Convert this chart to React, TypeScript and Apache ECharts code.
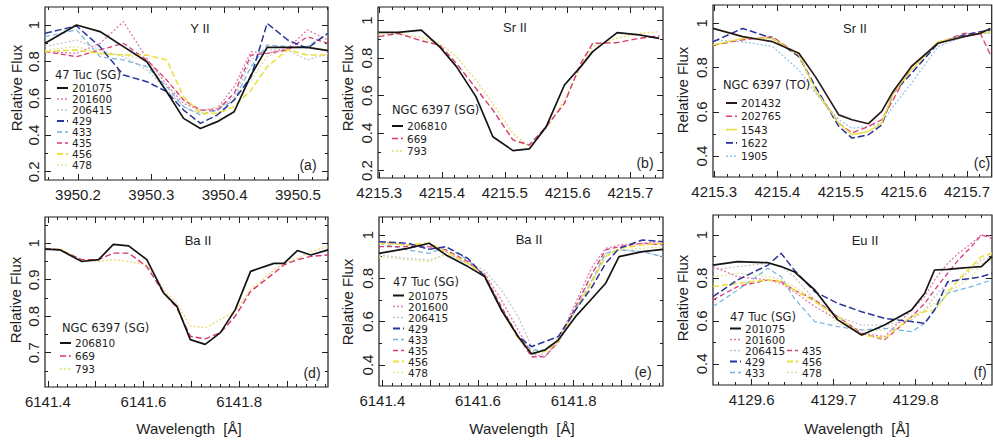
import React, { useEffect, useRef } from 'react';
import * as echarts from 'echarts';

// ---------------- Panel (a): Y II, 47 Tuc (SG) ----------------
const waveA = [3950.155, 3950.198, 3950.23, 3950.262, 3950.294, 3950.321, 3950.344, 3950.367, 3950.39, 3950.413, 3950.436, 3950.458, 3950.486, 3950.513, 3950.541];
const fluxA201075 = [0.9, 1.0, 0.964, 0.882, 0.8, 0.636, 0.491, 0.436, 0.473, 0.527, 0.727, 0.878, 0.878, 0.878, 0.86];
const fluxA201600 = [0.855, 0.845, 0.9, 1.018, 0.818, 0.673, 0.573, 0.536, 0.545, 0.664, 0.855, 0.845, 0.873, 0.973, 0.918];
const fluxA206415 = [0.882, 0.918, 0.864, 0.827, 0.755, 0.645, 0.555, 0.518, 0.536, 0.609, 0.809, 0.864, 0.864, 0.809, 0.845];
const fluxA429 = [0.955, 0.995, 0.882, 0.727, 0.691, 0.636, 0.536, 0.464, 0.509, 0.591, 0.718, 1.009, 0.918, 0.873, 0.955];
const fluxA433 = [0.936, 0.973, 0.827, 0.809, 0.773, 0.664, 0.555, 0.509, 0.536, 0.591, 0.773, 0.891, 0.882, 0.882, 0.955];
const fluxA435 = [0.855, 0.827, 0.864, 0.9, 0.809, 0.7, 0.591, 0.536, 0.536, 0.627, 0.836, 0.845, 0.864, 0.936, 0.9];
const fluxA456 = [0.855, 0.864, 0.845, 0.836, 0.836, 0.809, 0.609, 0.518, 0.518, 0.555, 0.645, 0.773, 0.864, 0.836, 0.836];
const fluxA478 = [0.864, 0.882, 0.845, 0.836, 0.809, 0.7, 0.591, 0.527, 0.555, 0.591, 0.7, 0.827, 0.873, 0.882, 0.864];

// ---------------- Panel (b): Sr II, NGC 6397 (SG) ----------------
const waveB = [4215.299, 4215.33, 4215.367, 4215.396, 4215.423, 4215.454, 4215.481, 4215.513, 4215.539, 4215.566, 4215.595, 4215.621, 4215.64, 4215.679, 4215.714, 4215.746];
const fluxB206810 = [0.938, 0.938, 0.95, 0.861, 0.755, 0.595, 0.381, 0.307, 0.316, 0.435, 0.657, 0.755, 0.835, 0.936, 0.924, 0.906];
const fluxB669 = [0.915, 0.932, 0.893, 0.87, 0.772, 0.639, 0.524, 0.364, 0.337, 0.435, 0.559, 0.772, 0.879, 0.883, 0.906, 0.918];
const fluxB793 = [0.924, 0.932, 0.911, 0.879, 0.808, 0.684, 0.559, 0.399, 0.328, 0.426, 0.577, 0.755, 0.861, 0.906, 0.932, 0.941];

// ---------------- Panel (c): Sr II, NGC 6397 (TO) ----------------
const waveC = [4215.298, 4215.345, 4215.392, 4215.434, 4215.46, 4215.497, 4215.518, 4215.544, 4215.565, 4215.583, 4215.612, 4215.654, 4215.695, 4215.721, 4215.737];
const fluxC201432 = [0.977, 0.94, 0.917, 0.865, 0.759, 0.586, 0.564, 0.546, 0.602, 0.692, 0.805, 0.91, 0.94, 0.955, 0.977];
const fluxC202765 = [0.902, 0.925, 0.94, 0.857, 0.699, 0.549, 0.504, 0.534, 0.564, 0.654, 0.805, 0.91, 0.955, 0.955, 0.857];
const fluxC1543 = [0.902, 0.932, 0.932, 0.857, 0.699, 0.549, 0.496, 0.511, 0.549, 0.684, 0.789, 0.917, 0.94, 0.955, 0.962];
const fluxC1622 = [0.917, 0.977, 0.932, 0.85, 0.714, 0.534, 0.481, 0.496, 0.541, 0.684, 0.774, 0.91, 0.947, 0.962, 0.97];
const fluxC1905 = [0.925, 0.917, 0.895, 0.789, 0.684, 0.564, 0.526, 0.534, 0.549, 0.624, 0.729, 0.895, 0.94, 0.955, 0.955];

// ---------------- Panel (d): Ba II, NGC 6397 (SG) ----------------
const waveD = [6141.394, 6141.425, 6141.471, 6141.506, 6141.537, 6141.569, 6141.607, 6141.642, 6141.67, 6141.698, 6141.729, 6141.761, 6141.792, 6141.824, 6141.873, 6141.894, 6141.922, 6141.95, 6141.986];
const fluxD206810 = [0.984, 0.982, 0.95, 0.955, 0.997, 0.993, 0.955, 0.864, 0.827, 0.736, 0.723, 0.755, 0.818, 0.923, 0.945, 0.945, 0.98, 0.968, 0.982];
const fluxD669 = [0.986, 0.982, 0.955, 0.955, 0.973, 0.973, 0.936, 0.864, 0.823, 0.745, 0.738, 0.755, 0.8, 0.868, 0.918, 0.941, 0.955, 0.964, 0.968];
const fluxD793 = [0.984, 0.986, 0.955, 0.95, 0.955, 0.95, 0.941, 0.873, 0.836, 0.773, 0.768, 0.791, 0.814, 0.873, 0.927, 0.945, 0.959, 0.977, 0.991];

// ---------------- Panel (e): Ba II, 47 Tuc (SG) ----------------
const waveE = [6141.393, 6141.453, 6141.498, 6141.533, 6141.579, 6141.614, 6141.649, 6141.684, 6141.712, 6141.74, 6141.768, 6141.804, 6141.839, 6141.867, 6141.895, 6141.944, 6141.987];
const fluxE201075 = [0.915, 0.938, 0.962, 0.908, 0.854, 0.808, 0.654, 0.531, 0.451, 0.469, 0.515, 0.623, 0.708, 0.777, 0.9, 0.923, 0.934];
const fluxE201600 = [0.969, 0.954, 0.946, 0.923, 0.869, 0.823, 0.7, 0.562, 0.454, 0.438, 0.515, 0.685, 0.854, 0.938, 0.954, 0.962, 0.969];
const fluxE206415 = [0.908, 0.892, 0.885, 0.908, 0.869, 0.838, 0.746, 0.623, 0.485, 0.438, 0.5, 0.654, 0.823, 0.915, 0.931, 0.923, 0.9];
const fluxE429 = [0.969, 0.962, 0.934, 0.946, 0.892, 0.808, 0.654, 0.531, 0.485, 0.508, 0.531, 0.654, 0.762, 0.869, 0.938, 0.977, 0.969];
const fluxE433 = [0.962, 0.931, 0.915, 0.946, 0.885, 0.808, 0.654, 0.531, 0.469, 0.469, 0.515, 0.654, 0.792, 0.915, 0.931, 0.923, 0.9];
const fluxE435 = [0.946, 0.946, 0.946, 0.931, 0.877, 0.815, 0.669, 0.531, 0.438, 0.438, 0.508, 0.669, 0.823, 0.931, 0.946, 0.962, 0.954];
const fluxE456 = [0.962, 0.954, 0.962, 0.923, 0.869, 0.815, 0.654, 0.523, 0.454, 0.462, 0.508, 0.654, 0.785, 0.9, 0.938, 0.954, 0.962];
const fluxE478 = [0.9, 0.885, 0.877, 0.915, 0.869, 0.808, 0.662, 0.531, 0.462, 0.469, 0.523, 0.662, 0.792, 0.9, 0.931, 0.938, 0.946];

// ---------------- Panel (f): Eu II, 47 Tuc (SG) ----------------
const waveF = [4129.553, 4129.583, 4129.62, 4129.636, 4129.652, 4129.677, 4129.705, 4129.734, 4129.762, 4129.795, 4129.811, 4129.823, 4129.839, 4129.852, 4129.868, 4129.88, 4129.893];
const fluxF201075 = [0.86, 0.876, 0.871, 0.853, 0.829, 0.744, 0.605, 0.535, 0.581, 0.651, 0.729, 0.837, 0.84, 0.845, 0.85, 0.853, 0.899];
const fluxF201600 = [0.853, 0.806, 0.791, 0.775, 0.736, 0.667, 0.605, 0.543, 0.527, 0.651, 0.713, 0.791, 0.868, 0.915, 0.961, 1.0, 0.992];
const fluxF206415 = [0.837, 0.853, 0.868, 0.853, 0.806, 0.698, 0.62, 0.581, 0.581, 0.605, 0.651, 0.713, 0.775, 0.791, 0.837, 0.884, 0.899];
const fluxF429 = [0.713, 0.791, 0.86, 0.915, 0.837, 0.736, 0.682, 0.643, 0.612, 0.597, 0.589, 0.651, 0.783, 0.791, 0.798, 0.806, 0.822];
const fluxF433 = [0.667, 0.744, 0.845, 0.806, 0.705, 0.597, 0.574, 0.558, 0.566, 0.55, 0.589, 0.651, 0.729, 0.744, 0.76, 0.775, 0.791];
const fluxF435 = [0.698, 0.76, 0.791, 0.783, 0.744, 0.698, 0.62, 0.543, 0.512, 0.62, 0.682, 0.744, 0.822, 0.884, 0.946, 1.0, 0.984];
const fluxF456 = [0.76, 0.775, 0.791, 0.783, 0.744, 0.69, 0.62, 0.535, 0.519, 0.62, 0.643, 0.651, 0.729, 0.791, 0.853, 0.899, 0.915];
const fluxF478 = [0.806, 0.822, 0.806, 0.791, 0.76, 0.698, 0.589, 0.558, 0.558, 0.62, 0.651, 0.682, 0.744, 0.76, 0.806, 0.868, 0.884];

// ---------------- Tick labels ----------------
const waveTicksA = [3950.2, 3950.3, 3950.4, 3950.5];
const waveTicksBC = [4215.3, 4215.4, 4215.5, 4215.6, 4215.7];
const waveTicksDE = [6141.4, 6141.6, 6141.8];
const waveTicksF = [4129.6, 4129.7, 4129.8];
const fluxTicksAB = [0.2, 0.4, 0.6, 0.8, 1];
const fluxTicksCEF = [0.4, 0.6, 0.8, 1];
const fluxTicksD = [0.7, 0.8, 0.9, 1];

const FONT = '"Liberation Sans", Arial, Helvetica, sans-serif';
const LEGEND_FONT = '"DejaVu Sans", "Liberation Sans", sans-serif';
const INK = '#1e1e1e';

const STYLE: Record<string, { color: string; width: number; dash: number[] | null }> = {
  '201075': { color: '#141414', width: 1.7, dash: null },
  '201600': { color: '#e07ab2', width: 1.3, dash: [2, 2] },
  '206415': { color: '#c4c4c4', width: 1.2, dash: [2, 2] },
  '429': { color: '#2b3698', width: 1.5, dash: [7, 3] },
  '433': { color: '#74b2e0', width: 1.2, dash: [5, 3] },
  '435': { color: '#d63c7c', width: 1.3, dash: [5, 3] },
  '456': { color: '#ece23c', width: 1.6, dash: [6, 3] },
  '478': { color: '#e2e49c', width: 1.3, dash: [2, 2] },
  '206810': { color: '#141414', width: 1.7, dash: null },
  '669': { color: '#d6386c', width: 1.4, dash: [6, 3] },
  '793': { color: '#e6dc6a', width: 1.3, dash: [2, 2] },
  '201432': { color: '#2a1a1a', width: 1.7, dash: null },
  '202765': { color: '#e0406a', width: 1.3, dash: [6, 3] },
  '1543': { color: '#e6e04a', width: 1.4, dash: null },
  '1622': { color: '#27309a', width: 1.5, dash: [7, 3] },
  '1905': { color: '#8cc4e6', width: 1.2, dash: [2, 2] },
};

type Panel = {
  rect: number[];
  xr: number[];
  yr: number[];
  xLabels: number[];
  xMajor: number;
  xMinor: number;
  yLabels: number[];
  yMajor: number;
  yMinor: number;
  wave: number[];
  order: string[];
  flux: Record<string, number[]>;
  title: string;
  titlePos: number[];
  tag: string;
  tagPos: number[];
  yTitlePos: number[];
  xTitlePos: number[] | null;
  legendHead: string;
  legendHeadPos: number[];
  legend: { star: string; x: number; y: number }[];
};

const col = (stars: string[], x: number, y0: number, dy: number) =>
  stars.map((s, i) => ({ star: s, x, y: y0 + dy * i }));

const tucStars = ['201075', '201600', '206415', '429', '433', '435', '456', '478'];
const tucOrder = ['206415', '478', '433', '435', '201600', '456', '429', '201075'];

const panels: Panel[] = [
  {
    rect: [45, 7, 283, 173], xr: [3950.155, 3950.541], yr: [0.155, 1.098],
    xLabels: waveTicksA, xMajor: 0.1, xMinor: 0.02, yLabels: fluxTicksAB, yMajor: 0.2, yMinor: 0.1,
    wave: waveA, order: tucOrder,
    flux: { '201075': fluxA201075, '201600': fluxA201600, '206415': fluxA206415, '429': fluxA429, '433': fluxA433, '435': fluxA435, '456': fluxA456, '478': fluxA478 },
    title: 'Y II', titlePos: [200, 28], tag: '(a)', tagPos: [308, 165],
    yTitlePos: [16, 88], xTitlePos: null,
    legendHead: '47 Tuc (SG)', legendHeadPos: [55, 75],
    legend: col(tucStars, 57, 88, 11),
  },
  {
    rect: [378, 7, 285, 171], xr: [4215.298, 4215.752], yr: [0.161, 1.073],
    xLabels: waveTicksBC, xMajor: 0.1, xMinor: 0.02, yLabels: fluxTicksAB, yMajor: 0.2, yMinor: 0.1,
    wave: waveB, order: ['793', '669', '206810'],
    flux: { '206810': fluxB206810, '669': fluxB669, '793': fluxB793 },
    title: 'Sr II', titlePos: [515, 27], tag: '(b)', tagPos: [645, 163],
    yTitlePos: [347, 88], xTitlePos: null,
    legendHead: 'NGC 6397 (SG)', legendHeadPos: [392, 110],
    legend: col(['206810', '669', '793'], 392, 126, 12.5),
  },
  {
    rect: [713, 5, 279, 172], xr: [4215.298, 4215.739], yr: [0.305, 1.083],
    xLabels: waveTicksBC, xMajor: 0.1, xMinor: 0.02, yLabels: fluxTicksCEF, yMajor: 0.2, yMinor: 0.1,
    wave: waveC, order: ['1905', '1543', '202765', '1622', '201432'],
    flux: { '201432': fluxC201432, '202765': fluxC202765, '1543': fluxC1543, '1622': fluxC1622, '1905': fluxC1905 },
    title: 'Sr II', titlePos: [855, 28], tag: '(c)', tagPos: [982, 163],
    yTitlePos: [682, 90], xTitlePos: null,
    legendHead: 'NGC 6397 (TO)', legendHeadPos: [723, 85],
    legend: col(['201432', '202765', '1543', '1622', '1905'], 726, 103, 13.3),
  },
  {
    rect: [45, 217, 283, 170], xr: [6141.394, 6141.986], yr: [0.606, 1.072],
    xLabels: waveTicksDE, xMajor: 0.1, xMinor: 0.02, yLabels: fluxTicksD, yMajor: 0.1, yMinor: 0.05,
    wave: waveD, order: ['793', '669', '206810'],
    flux: { '206810': fluxD206810, '669': fluxD669, '793': fluxD793 },
    title: 'Ba II', titlePos: [198, 240], tag: '(d)', tagPos: [312, 373],
    yTitlePos: [15, 300], xTitlePos: [189, 428],
    legendHead: 'NGC 6397 (SG)', legendHeadPos: [62, 328],
    legend: col(['206810', '669', '793'], 60, 343, 13),
  },
  {
    rect: [379, 217, 284, 169], xr: [6141.393, 6141.987], yr: [0.303, 1.083],
    xLabels: waveTicksDE, xMajor: 0.1, xMinor: 0.02, yLabels: fluxTicksCEF, yMajor: 0.2, yMinor: 0.1,
    wave: waveE, order: tucOrder,
    flux: { '201075': fluxE201075, '201600': fluxE201600, '206415': fluxE206415, '429': fluxE429, '433': fluxE433, '435': fluxE435, '456': fluxE456, '478': fluxE478 },
    title: 'Ba II', titlePos: [529, 239], tag: '(e)', tagPos: [643, 372],
    yTitlePos: [347, 302], xTitlePos: [522, 428],
    legendHead: '47 Tuc (SG)', legendHeadPos: [393, 282],
    legend: col(tucStars, 393, 295.5, 11),
  },
  {
    rect: [713, 215, 279, 170], xr: [4129.553, 4129.893], yr: [0.302, 1.093],
    xLabels: waveTicksF, xMajor: 0.1, xMinor: 0.02, yLabels: fluxTicksCEF, yMajor: 0.2, yMinor: 0.1,
    wave: waveF, order: tucOrder,
    flux: { '201075': fluxF201075, '201600': fluxF201600, '206415': fluxF206415, '429': fluxF429, '433': fluxF433, '435': fluxF435, '456': fluxF456, '478': fluxF478 },
    title: 'Eu II', titlePos: [865, 240], tag: '(f)', tagPos: [980, 372],
    yTitlePos: [682, 298], xTitlePos: [857, 428],
    legendHead: '47 Tuc (SG)', legendHeadPos: [730, 317],
    legend: [...col(['201075', '201600', '206415', '429', '433'], 730, 328.5, 11), ...col(['435', '456', '478'], 787, 350.5, 11)],
  },
];

function tickRange(min: number, max: number, step: number) {
  const out: number[] = [];
  const k0 = Math.ceil(min / step - 1e-6);
  const k1 = Math.floor(max / step + 1e-6);
  for (let k = k0; k <= k1; k++) out.push(+(k * step).toFixed(4));
  return out;
}

function buildOption() {
  const grid: any[] = [];
  const xAxis: any[] = [];
  const yAxis: any[] = [];
  const series: any[] = [];
  const graphic: any[] = [];

  panels.forEach((p, i) => {
    const [l, t, w, h] = p.rect;
    grid.push({ left: l, top: t, width: w, height: h, show: true, borderColor: INK, borderWidth: 1.2, backgroundColor: 'rgba(0,0,0,0)' });
    const xMaj = tickRange(p.xr[0], p.xr[1], p.xMajor);
    const xMin = tickRange(p.xr[0], p.xr[1], p.xMinor);
    const yMaj = tickRange(p.yr[0], p.yr[1], p.yMajor);
    const yMin = tickRange(p.yr[0], p.yr[1], p.yMinor);
    const baseX = { type: 'value', gridIndex: i, min: p.xr[0], max: p.xr[1], axisLine: { show: false, onZero: false }, splitLine: { show: false } };
    const baseY = { type: 'value', gridIndex: i, min: p.yr[0], max: p.yr[1], axisLine: { show: false, onZero: false }, splitLine: { show: false } };
    const tick = (vals: number[], len: number) => ({ show: true, inside: true, length: len, customValues: vals, lineStyle: { color: INK, width: 1 } });
    const noLabel = { show: false };
    xAxis.push(
      { ...baseX, position: 'bottom', axisTick: tick(xMaj, 6), axisLabel: { customValues: p.xLabels, formatter: (v: number) => v.toFixed(1), margin: 7, fontSize: 15, color: INK, fontFamily: FONT } },
      { ...baseX, position: 'bottom', axisTick: tick(xMin, 3), axisLabel: noLabel },
      { ...baseX, position: 'top', axisTick: tick(xMaj, 6), axisLabel: noLabel },
      { ...baseX, position: 'top', axisTick: tick(xMin, 3), axisLabel: noLabel },
    );
    yAxis.push(
      { ...baseY, position: 'left', axisTick: tick(yMaj, 6), axisLabel: { customValues: p.yLabels, rotate: 90, formatter: (v: number) => (Math.abs(v - 1) < 1e-9 ? '1' : v.toFixed(1)), margin: 4, fontSize: 15, color: INK, fontFamily: FONT } },
      { ...baseY, position: 'left', axisTick: tick(yMin, 3), axisLabel: noLabel },
      { ...baseY, position: 'right', axisTick: tick(yMaj, 6), axisLabel: noLabel },
      { ...baseY, position: 'right', axisTick: tick(yMin, 3), axisLabel: noLabel },
    );

    p.order.forEach((star) => {
      const st = STYLE[star];
      const ys = p.flux[star];
      series.push({
        type: 'line',
        name: `${p.tag} ${star}`,
        xAxisIndex: i * 4,
        yAxisIndex: i * 4,
        data: p.wave.map((wv, j) => [wv, ys[j]]),
        showSymbol: false,
        symbol: 'none',
        silent: true,
        clip: true,
        z: st.dash ? 2 : 3,
        lineStyle: { color: st.color, width: st.width, type: st.dash ? st.dash : 'solid' },
      });
    });

    const txt = (s: string, x: number, y: number, size: number, align = 'left', extra: any = {}, family = FONT) => ({
      type: 'text', x, y, silent: true, z: 10, ...extra,
      style: { text: s, fill: INK, fontSize: size, fontFamily: family, align, verticalAlign: 'middle', lineHeight: size },
    });

    graphic.push(txt(p.title, p.titlePos[0], p.titlePos[1], 13, 'center'));
    graphic.push(txt(p.tag, p.tagPos[0], p.tagPos[1], 14, 'center'));
    graphic.push(txt('Relative Flux', p.yTitlePos[0], p.yTitlePos[1], 15, 'center', { rotation: Math.PI / 2 }));
    if (p.xTitlePos) graphic.push(txt('Wavelength  [Å]', p.xTitlePos[0], p.xTitlePos[1], 15, 'center'));
    graphic.push(txt(p.legendHead, p.legendHeadPos[0], p.legendHeadPos[1], 11.5, 'left', {}, LEGEND_FONT));
    p.legend.forEach((it) => {
      const st = STYLE[it.star];
      graphic.push({
        type: 'line', silent: true, z: 10,
        shape: { x1: it.x, y1: it.y, x2: it.x + 11, y2: it.y },
        style: { stroke: st.color, lineWidth: st.width + 0.3, lineDash: st.dash },
      });
      graphic.push(txt(it.star, it.x + 15, it.y, 10.5, 'left', {}, LEGEND_FONT));
    });
  });

  return {
    animation: false,
    backgroundColor: '#ffffff',
    textStyle: { fontFamily: FONT },
    grid,
    xAxis,
    yAxis,
    series,
    graphic: { elements: graphic },
  };
}

export default function App() {
  const ref = useRef<HTMLDivElement>(null);
  useEffect(() => {
    if (!ref.current) return;
    const chart = echarts.init(ref.current, undefined, { renderer: 'svg' });
    chart.setOption(buildOption() as any);
    return () => chart.dispose();
  }, []);
  return (
    <div
      ref={ref}
      style={{ position: 'fixed', left: 0, top: 0, width: 993, height: 442, background: '#fff' }}
    />
  );
}
